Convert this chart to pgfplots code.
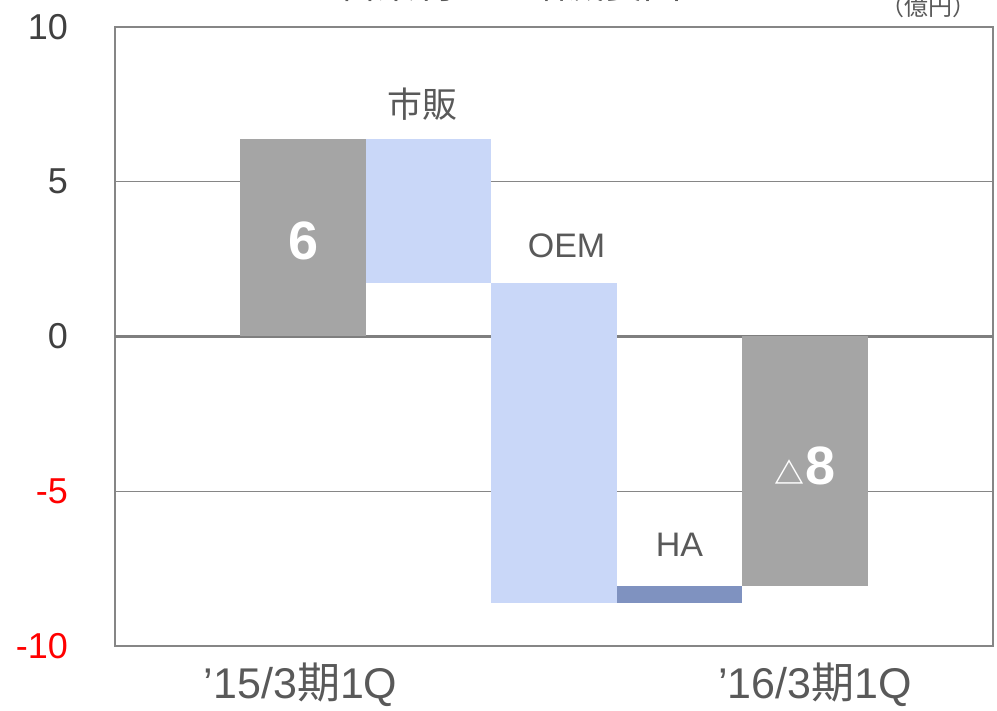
\documentclass[border=0pt]{standalone}
\usepackage{pgfplots}
\pgfplotsset{compat=1.18}
\usepackage{fontspec}
\setmainfont{Liberation Sans}
\newfontfamily\cjk{Noto Sans CJK JP}
\definecolor{barGray}{HTML}{A5A5A5}
\definecolor{barBlue}{HTML}{C9D7F8}
\definecolor{barHA}{HTML}{7F92C0}
\definecolor{gridGray}{HTML}{868686}
\definecolor{zeroGray}{HTML}{7F7F7F}
\definecolor{txtGray}{HTML}{595959}
\definecolor{tickGray}{HTML}{404040}
\definecolor{negRed}{HTML}{FF0000}
\begin{document}
\begin{tikzpicture}
\useasboundingbox (-115bp,-65bp) rectangle (882bp,646bp);
\begin{axis}[
  at={(0,0)}, anchor=south west,
  scale only axis, width=878bp, height=619bp,
  xmin=-0.5, xmax=6.5, ymin=-10, ymax=10,
  xtick={0.98,5.08},
  xticklabels={’15/3{\cjk 期}1Q, ’16/3{\cjk 期}1Q},
  ytick={-10,-5,0,5,10},
  yticklabels={{\textcolor{negRed}{-10}},{\textcolor{negRed}{-5}},0,5,10},
  major tick length=0pt,
  ymajorgrids,
  grid style={gridGray, line width=1.2bp},
  axis line style={gridGray, line width=1.2bp},
  extra y ticks={0}, extra y tick labels={},
  extra y tick style={grid style={zeroGray, line width=3bp}},
  yticklabel style={font=\fontsize{36bp}{40bp}\selectfont, text=tickGray, anchor=east, inner sep=0pt, xshift=-47bp},
  xticklabel style={font=\fontsize{43bp}{46bp}\selectfont, text=txtGray, anchor=base, inner sep=0pt, yshift=-52bp},
  clip=false,
]
% waterfall bars: each bar spans x-0.5 .. x+0.5 between its start and end value
% '15/3期1Q total: 0 -> 6.38
\addplot[draw=none, fill=barGray] coordinates {(0.5,0) (1.5,0) (1.5,6.38) (0.5,6.38)};
% 市販: 6.38 -> 1.73
\addplot[draw=none, fill=barBlue] coordinates {(1.5,1.73) (2.5,1.73) (2.5,6.38) (1.5,6.38)};
% OEM: 1.73 -> -8.61
\addplot[draw=none, fill=barBlue] coordinates {(2.5,-8.61) (3.5,-8.61) (3.5,1.73) (2.5,1.73)};
% HA: -8.61 -> -8.06
\addplot[draw=none, fill=barHA] coordinates {(3.5,-8.61) (4.5,-8.61) (4.5,-8.06) (3.5,-8.06)};
% '16/3期1Q total: 0 -> -8.06
\addplot[draw=none, fill=barGray] coordinates {(4.5,-8.06) (5.5,-8.06) (5.5,0) (4.5,0)};

\node[font=\cjk\fontsize{35bp}{35bp}\selectfont, text=txtGray] at (axis cs:1.95,7.5) {市販};
\node[font=\fontsize{34bp}{34bp}\selectfont, text=txtGray] at (axis cs:3.10,2.92) {OEM};
\node[font=\fontsize{34bp}{34bp}\selectfont, text=txtGray] at (axis cs:4.00,-6.74) {HA};
\node[font=\bfseries\fontsize{54bp}{54bp}\selectfont, text=white] at (axis cs:1.0,3.09) {6};
\node[font=\bfseries\fontsize{54bp}{54bp}\selectfont, text=white] at (axis cs:5.0,-4.18) {{\cjk\bfseries\fontsize{30bp}{30bp}\selectfont △}\hspace{1bp}8};
\end{axis}
\node[anchor=base, font=\cjk\fontsize{38bp}{38bp}\selectfont, text=txtGray] at (395bp,647bp) {営業利益の増減要因};
\node[anchor=base, font=\cjk\fontsize{24bp}{24bp}\selectfont, text=txtGray] at (813bp,630bp) {（億円）};
\end{tikzpicture}
\end{document}
